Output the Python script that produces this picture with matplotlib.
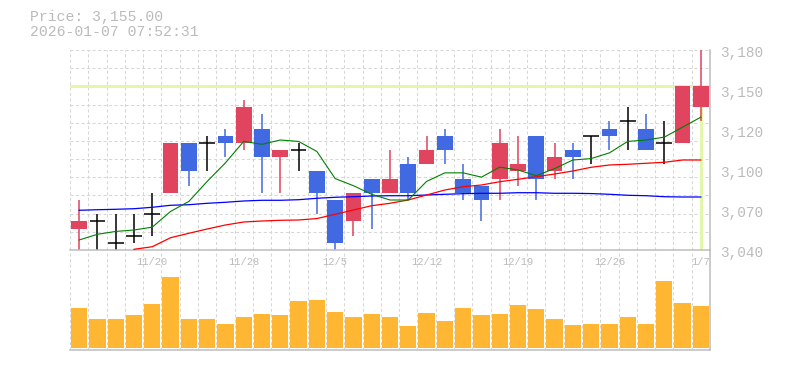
import matplotlib
matplotlib.use('Agg')
import matplotlib.pyplot as plt
import numpy as np
from matplotlib.ticker import FixedLocator, NullLocator
from matplotlib.transforms import offset_copy, blended_transform_factory

# trading days shown (one candle each)
dates = ['11/14', '11/17', '11/18', '11/19', '11/20', '11/21', '11/25', '11/26',
         '11/27', '11/28', '12/1', '12/2', '12/3', '12/4', '12/5', '12/8', '12/9',
         '12/10', '12/11', '12/12', '12/15', '12/16', '12/17', '12/18', '12/19',
         '12/22', '12/23', '12/24', '12/25', '12/26', '12/29', '12/30', '1/5',
         '1/6', '1/7']

opens = [3055, 3060, 3045, 3050, 3065, 3080, 3115, 3115, 3120, 3115, 3125, 3105,
         3110, 3095, 3075, 3060, 3090, 3080, 3100, 3100, 3120, 3090, 3085, 3090,
         3095, 3120, 3095, 3110, 3120, 3125, 3130, 3125, 3115, 3115, 3140]
highs = [3075, 3065, 3065, 3065, 3080, 3115, 3115, 3120, 3125, 3145, 3135, 3110,
         3115, 3095, 3075, 3080, 3090, 3110, 3105, 3120, 3125, 3100, 3085, 3125,
         3120, 3120, 3115, 3115, 3120, 3130, 3140, 3135, 3130, 3155, 3180]
lows = [3040, 3040, 3040, 3045, 3050, 3080, 3085, 3095, 3105, 3110, 3080, 3080,
        3095, 3065, 3040, 3050, 3055, 3080, 3075, 3100, 3100, 3075, 3060, 3075,
        3085, 3075, 3090, 3090, 3100, 3110, 3110, 3110, 3100, 3115, 3130]
closes = [3060, 3060, 3045, 3050, 3065, 3115, 3095, 3115, 3115, 3140, 3105, 3110,
          3110, 3080, 3045, 3080, 3080, 3090, 3080, 3110, 3110, 3080, 3075, 3115,
          3100, 3090, 3105, 3105, 3120, 3120, 3130, 3110, 3115, 3155, 3155]

# moving averages
ma_short = [3047, 3051, 3053, 3054, 3056, 3067, 3074, 3088, 3101, 3116, 3114, 3117,
            3116, 3109, 3090, 3085, 3079, 3075, 3075, 3088, 3094, 3094, 3091, 3098,
            3096, 3092, 3097, 3103, 3104, 3108, 3116, 3117, 3119, 3126, 3133]
ma_mid = [np.nan, np.nan, np.nan, 3040.5, 3042.3, 3048.6, 3051.7, 3054.7, 3057.5,
          3059.6, 3060.3, 3060.8, 3061, 3062, 3065, 3068, 3071, 3072.7, 3075,
          3078.5, 3082, 3084.3, 3085.5, 3087.8, 3089.5, 3091.3, 3093.2, 3095.3,
          3097.9, 3099.5, 3100, 3100.7, 3101.4, 3103, 3103]
ma_long = [3067.8, 3068.2, 3068.5, 3068.9, 3069.9, 3071.3, 3071.7, 3072.7, 3073.4,
           3074.3, 3074.8, 3074.8, 3075.2, 3076.2, 3076.9, 3077.3, 3077.8, 3078,
           3078, 3078.5, 3079, 3079.4, 3079.7, 3079.7, 3080.1, 3080.1, 3079.7,
           3079.7, 3079.5, 3079, 3078.3, 3078, 3077.3, 3077.1, 3077.1]

volumes = [40000, 29000, 29000, 33000, 44000, 71300, 29000, 29000, 24000, 31000,
           34000, 33000, 47000, 48000, 36000, 31000, 34000, 31000, 22000, 35000,
           27000, 40000, 33000, 34000, 43000, 39000, 29000, 23000, 24000, 24000,
           31000, 24000, 67000, 45000, 42000]

last_price = 3155.0
timestamp = '2026-01-07 07:52:31'
y_range = (3040, 3180)
y_labels = ['3,040', '3,070', '3,100', '3,120', '3,150', '3,180']

UP = '#E0445F'
DOWN = '#4169E1'
GRID = '#D6D6D6'
AXIS = '#BDBDBD'
TEXT = '#BBBBBB'
FONT = 'Liberation Mono'

W, H = 785, 370
fig = plt.figure(figsize=(W / 100, H / 100), dpi=100)
axv = fig.add_axes([70 / W, 20 / H, 640 / W, 99 / H])
ax = fig.add_axes([70 / W, 120 / H, 640 / W, 200 / H])
axv.patch.set_visible(False)

x = np.arange(len(dates))
n = len(dates)

# --- price panel ---
ax.set_xlim(-0.5, n - 0.5)
ax.set_ylim(*y_range)
ax.set_axisbelow(True)
ax.xaxis.set_minor_locator(FixedLocator(np.arange(-0.5, n, 1)))
ax.yaxis.set_minor_locator(FixedLocator(np.linspace(y_range[0], y_range[1], 12)))
ax.yaxis.set_major_locator(NullLocator())
ax.grid(which='minor', color=GRID, lw=0.75, dashes=(2.9, 2.4))
ax.tick_params(which='both', length=0)
for s in ['top', 'left']:
    ax.spines[s].set_visible(False)
for s in ['bottom', 'right']:
    ax.spines[s].set_color(AXIS)
    ax.spines[s].set_linewidth(1.1)

# current price marker
ax.axhline(last_price, color='#E4F5AC', lw=2.2, zorder=1)
ax.vlines(x[-1], y_range[0], last_price, color='#E4F5AC', lw=2.2, zorder=1)

bw = 0.86
for i in x:
    o, h, l, c = opens[i], highs[i], lows[i], closes[i]
    if c > o:
        col = UP
    elif c < o:
        col = DOWN
    else:
        col = 'black'
    ax.vlines(i, l, h, color=col, lw=1.1, zorder=2)
    if c == o:
        ax.hlines(c, i - bw / 2, i + bw / 2, color=col, lw=1.1, zorder=2)
    else:
        ax.bar(i, abs(c - o), bottom=min(o, c), width=bw, color=col, zorder=2)

ax.plot(x, ma_long, color='#0000FF', lw=0.9, zorder=3)
ax.plot(x, ma_mid, color='#FF0000', lw=0.9, zorder=3)
ax.plot(x, ma_short, color='#008000', lw=0.8, zorder=3)

# date labels every 5 sessions
ax.set_xticks(x[4::5], [dates[i] for i in x[4::5]])
ax.tick_params(axis='x', pad=5, labelsize=7.5, labelcolor=TEXT)
for lab in ax.get_xticklabels():
    lab.set_family(FONT)

# price labels on the right
tr = offset_copy(blended_transform_factory(ax.transAxes, ax.transData),
                 fig=fig, x=10, y=-3, units='dots')
for v, lab in zip(np.linspace(y_range[0], y_range[1], len(y_labels)), y_labels):
    ax.text(1, v, lab, transform=tr, ha='left', va='center',
            fontsize=10.4, color=TEXT, family=FONT)

# --- volume panel ---
axv.bar(x, volumes, width=0.89, color='#FFB733', zorder=2)
axv.set_xlim(-0.5, n - 0.5)
axv.set_ylim(-2000, 97000)
axv.set_axisbelow(True)
axv.xaxis.set_minor_locator(FixedLocator(np.arange(-0.5, n, 1)))
axv.xaxis.set_major_locator(NullLocator())
axv.yaxis.set_major_locator(NullLocator())
axv.grid(which='minor', axis='x', color=GRID, lw=0.75, dashes=(2.9, 2.4))
axv.tick_params(which='both', length=0)
for s in ['top', 'left']:
    axv.spines[s].set_visible(False)
for s in ['bottom', 'right']:
    axv.spines[s].set_color(AXIS)
    axv.spines[s].set_linewidth(1.1)

# header
fig.text(30 / W, 1 - 17.5 / H, f'Price: {last_price:,.2f}', ha='left', va='center',
         fontsize=10.6, color=TEXT, family=FONT)
fig.text(30 / W, 1 - 32.5 / H, timestamp, ha='left', va='center',
         fontsize=10.6, color=TEXT, family=FONT)

fig.savefig('out.png', dpi=100)
